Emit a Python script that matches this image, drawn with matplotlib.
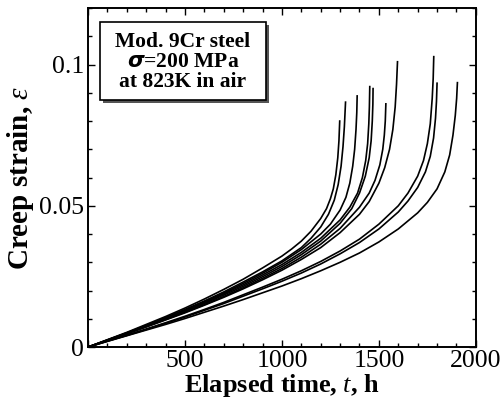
import matplotlib
matplotlib.use("Agg")
import matplotlib.pyplot as plt
from matplotlib.ticker import MultipleLocator
from matplotlib.patches import Rectangle

# Creep curves (time in h, strain)
c1_t = [0, 100, 200, 300, 400, 500, 600, 700, 800, 900, 1000, 1050, 1100, 1150, 1200, 1230, 1250, 1265, 1278, 1288, 1294, 1298]
c1_e = [0, 0.0026, 0.0052, 0.0080, 0.0108, 0.0138, 0.0170, 0.0204, 0.0240, 0.0280, 0.0322, 0.0347, 0.0375, 0.0410, 0.0455, 0.0490, 0.0525, 0.0560, 0.0610, 0.0670, 0.0730, 0.0800]
c2_t = [0, 100, 200, 300, 400, 500, 600, 700, 800, 900, 1000, 1100, 1150, 1200, 1240, 1270, 1290, 1305, 1315, 1322, 1328]
c2_e = [0, 0.0025, 0.0050, 0.0077, 0.0104, 0.0133, 0.0163, 0.0195, 0.0230, 0.0266, 0.0305, 0.0352, 0.0385, 0.0425, 0.0470, 0.0520, 0.0575, 0.0640, 0.0710, 0.0780, 0.0867]
c3_t = [0, 100, 200, 300, 400, 500, 600, 700, 800, 900, 1000, 1100, 1200, 1250, 1300, 1330, 1350, 1365, 1375, 1382, 1386, 1388]
c3_e = [0, 0.0025, 0.0050, 0.0076, 0.0103, 0.0131, 0.0160, 0.0191, 0.0225, 0.0261, 0.0300, 0.0345, 0.0400, 0.0435, 0.0485, 0.0530, 0.0580, 0.0640, 0.0700, 0.0770, 0.0830, 0.0889]
c4_t = [0, 100, 200, 300, 400, 500, 600, 700, 800, 900, 1000, 1100, 1200, 1300, 1350, 1390, 1415, 1432, 1442, 1448, 1451, 1453]
c4_e = [0, 0.0024, 0.0049, 0.0075, 0.0101, 0.0128, 0.0157, 0.0188, 0.0220, 0.0255, 0.0292, 0.0335, 0.0385, 0.0450, 0.0495, 0.0545, 0.0600, 0.0660, 0.0720, 0.0790, 0.0850, 0.0922]
c5_t = [0, 100, 200, 300, 400, 500, 600, 700, 800, 900, 1000, 1100, 1200, 1300, 1360, 1400, 1430, 1450, 1460, 1466, 1469, 1470]
c5_e = [0, 0.0024, 0.0048, 0.0073, 0.0099, 0.0126, 0.0154, 0.0184, 0.0215, 0.0249, 0.0285, 0.0327, 0.0375, 0.0438, 0.0490, 0.0545, 0.0605, 0.0670, 0.0730, 0.0800, 0.0860, 0.0915]
c6_t = [0, 100, 200, 300, 400, 500, 600, 700, 800, 900, 1000, 1100, 1200, 1300, 1400, 1450, 1480, 1505, 1520, 1528, 1533, 1536]
c6_e = [0, 0.0023, 0.0047, 0.0072, 0.0097, 0.0123, 0.0150, 0.0179, 0.0210, 0.0243, 0.0278, 0.0318, 0.0364, 0.0420, 0.0495, 0.0545, 0.0590, 0.0645, 0.0700, 0.0750, 0.0800, 0.0861]
c7_t = [0, 100, 200, 300, 400, 500, 600, 700, 800, 900, 1000, 1100, 1200, 1300, 1400, 1450, 1500, 1530, 1555, 1572, 1584, 1591, 1596]
c7_e = [0, 0.0023, 0.0047, 0.0071, 0.0096, 0.0121, 0.0148, 0.0176, 0.0206, 0.0238, 0.0272, 0.0310, 0.0352, 0.0405, 0.0470, 0.0515, 0.0580, 0.0635, 0.0700, 0.0770, 0.0850, 0.0930, 0.1010]
c8_t = [0, 100, 200, 300, 400, 500, 600, 700, 800, 900, 1000, 1100, 1200, 1300, 1400, 1500, 1600, 1650, 1700, 1730, 1750, 1765, 1775, 1780, 1783]
c8_e = [0, 0.0021, 0.0042, 0.0064, 0.0086, 0.0109, 0.0133, 0.0158, 0.0185, 0.0212, 0.0240, 0.0270, 0.0303, 0.0340, 0.0382, 0.0435, 0.0500, 0.0545, 0.0605, 0.0660, 0.0720, 0.0790, 0.0880, 0.0950, 0.1028]
c9_t = [0, 100, 200, 300, 400, 500, 600, 700, 800, 900, 1000, 1100, 1200, 1300, 1400, 1500, 1600, 1650, 1700, 1740, 1765, 1782, 1792, 1797, 1800]
c9_e = [0, 0.0021, 0.0041, 0.0062, 0.0084, 0.0106, 0.0130, 0.0154, 0.0180, 0.0206, 0.0233, 0.0262, 0.0294, 0.0330, 0.0370, 0.0418, 0.0478, 0.0517, 0.0565, 0.0620, 0.0675, 0.0740, 0.0810, 0.0870, 0.0934]
c10_t = [0, 100, 200, 300, 400, 500, 600, 700, 800, 900, 1000, 1100, 1200, 1300, 1400, 1500, 1600, 1700, 1750, 1800, 1840, 1865, 1882, 1894, 1901, 1905]
c10_e = [0, 0.0020, 0.0040, 0.0060, 0.0080, 0.0101, 0.0123, 0.0145, 0.0168, 0.0192, 0.0216, 0.0242, 0.0270, 0.0300, 0.0333, 0.0372, 0.0418, 0.0475, 0.0512, 0.0560, 0.0620, 0.0680, 0.0750, 0.0820, 0.0880, 0.0936]

curves = [(c1_t, c1_e), (c2_t, c2_e), (c3_t, c3_e), (c4_t, c4_e), (c5_t, c5_e),
          (c6_t, c6_e), (c7_t, c7_e), (c8_t, c8_e), (c9_t, c9_e), (c10_t, c10_e)]

x_ticks = [0, 500, 1000, 1500, 2000]
x_labels = ["", "500", "1000", "1500", "2000"]
y_ticks = [0, 0.05, 0.1]
y_labels = ["0", "0.05", "0.1"]
box_text = "Mod. 9Cr steel\n$\\boldsymbol{\\sigma}$=200 MPa\nat 823K in air"

plt.rcParams['font.family'] = ['Liberation Serif', 'DejaVu Serif']
plt.rcParams['mathtext.fontset'] = 'custom'
plt.rcParams['mathtext.rm'] = 'Liberation Serif'
plt.rcParams['mathtext.it'] = 'Liberation Serif:italic'
plt.rcParams['mathtext.bf'] = 'Liberation Serif:bold'

fig = plt.figure(figsize=(5.03, 4.04), dpi=100)
ax = fig.add_axes([0.175, 0.141, 0.771, 0.839])

for t, e in curves:
    ax.plot(t, e, color='black', lw=1.2, solid_joinstyle='round')

ax.set_xlim(0, 2000)
ax.set_ylim(0, 0.12)
ax.set_xticks(x_ticks, labels=x_labels)
ax.set_yticks(y_ticks, labels=y_labels)
ax.xaxis.set_minor_locator(MultipleLocator(100))
ax.yaxis.set_minor_locator(MultipleLocator(0.01))
ax.tick_params(which='both', direction='in', top=True, right=True, labelsize=18.5, width=1.0)
ax.tick_params(axis='x', pad=2)
ax.tick_params(axis='y', pad=3)
ax.tick_params(which='major', length=5)
ax.tick_params(which='minor', length=3)
for s in ax.spines.values():
    s.set_linewidth(1.4)

ax.set_xlabel("Elapsed time, $\\mathit{t}$, h", fontsize=19, fontweight='bold', labelpad=0)
ax.set_ylabel("Creep strain, $\\mathit{\\varepsilon}$", fontsize=21, fontweight='bold', labelpad=2)

# text box with drop shadow
bx0, by0, bw, bh = 100, 22, 166, 78  # pixel coords (from top-left)
H = 404
shadow = Rectangle(((bx0 + 3) / 503, (H - by0 - bh - 3) / H), bw / 503, bh / H,
                   transform=fig.transFigure, facecolor='#555555', edgecolor='none', zorder=5)
box = Rectangle((bx0 / 503, (H - by0 - bh) / H), bw / 503, bh / H,
                transform=fig.transFigure, facecolor='white', edgecolor='black', lw=1.2, zorder=6)
fig.patches.extend([shadow, box])
fig.text((bx0 + bw / 2) / 503, (H - by0 - bh / 2 - 1) / H, box_text, ha='center', va='center',
         fontsize=15.5, fontweight='bold', linespacing=1.0, zorder=7)

fig.savefig("out.png", dpi=100)
